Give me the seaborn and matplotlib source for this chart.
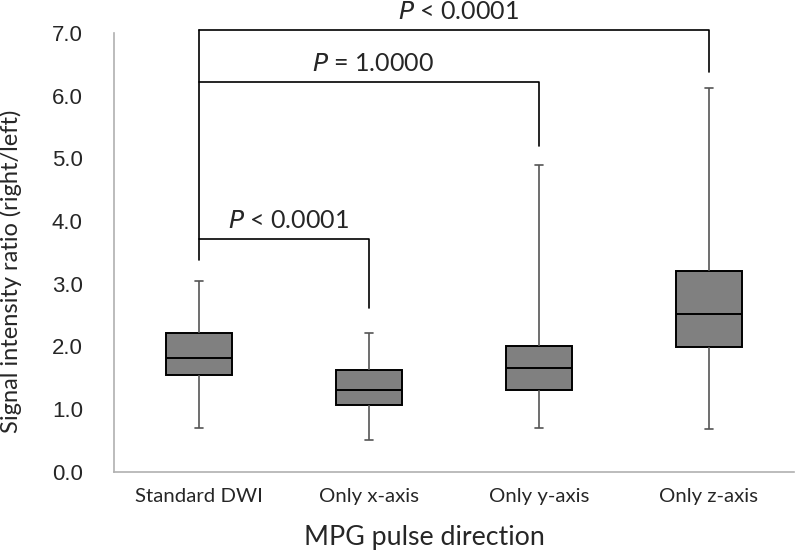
import pandas as pd
import matplotlib
matplotlib.use('Agg')
import matplotlib.pyplot as plt
import seaborn as sns

# 箱线图的五数概括（最小值、Q1、中位数、Q3、最大值）
groups = ['Standard DWI', 'Only x-axis', 'Only y-axis', 'Only z-axis']
mins = [0.69, 0.50, 0.69, 0.68]
q1s = [1.55, 1.07, 1.31, 1.99]
medians = [1.82, 1.30, 1.65, 2.51]
q3s = [2.22, 1.63, 2.01, 3.20]
maxs = [3.05, 2.22, 4.90, 6.12]

# 显著性标注：(组1, 组2, 横线高度, 右端下沿, 文字)
pairs = [(0, 3), (0, 2), (0, 1)]
bar_heights = [7.05, 6.22, 3.71]
right_ends = [6.38, 5.20, 2.61]
left_end = 3.38
p_labels = ['< 0.0001', '= 1.0000', '< 0.0001']

# 用五个点构造数据，whis=(0,100) 时百分位正好落在这五个值上
rows = []
for g, a, b, c, d, e in zip(groups, mins, q1s, medians, q3s, maxs):
    for v in (a, b, c, d, e):
        rows.append({'direction': g, 'ratio': v})
df = pd.DataFrame(rows)

sns.set_style('white')
fig = plt.figure(figsize=(7.95, 5.53), dpi=100)
ax = fig.add_axes([0.1434, 0.147, 0.855, 0.793])

sns.boxplot(data=df, x='direction', y='ratio', ax=ax, whis=(0, 100),
            width=0.39, color='#808080', saturation=1, linecolor='black',
            linewidth=1.4,
            whiskerprops={'color': '#555555', 'linewidth': 1.2},
            capprops={'color': '#555555', 'linewidth': 1.2},
            medianprops={'color': 'black', 'linewidth': 1.4})

# 缩短须线末端的横线
for line in ax.lines:
    xs = line.get_xdata()
    ys = line.get_ydata()
    if len(xs) == 2 and ys[0] == ys[1] and ys[0] in mins + maxs:
        cx = (xs[0] + xs[1]) / 2
        line.set_xdata([cx - 0.025, cx + 0.025])

ax.set_ylim(0, 7)
ax.set_xlim(-0.5, 3.5)
ax.set_yticks([0, 1, 2, 3, 4, 5, 6, 7], ['%.1f' % v for v in range(8)],
              family='Liberation Sans', fontsize=16)
ax.set_xticks([0, 1, 2, 3], groups, family='Lato', fontsize=14.7)
ax.set_xticks([-0.5, 0.5, 1.5, 2.5, 3.5], minor=True)
ax.tick_params(axis='x', which='major', length=0, pad=12)
ax.tick_params(axis='x', which='minor', length=6, color='#b0b0b0', direction='out')
ax.tick_params(axis='y', length=6.5, color='#b0b0b0', direction='out', pad=16)

for s in ['top', 'right']:
    ax.spines[s].set_visible(False)
for s in ['left', 'bottom']:
    ax.spines[s].set_color('#b0b0b0')
    ax.spines[s].set_linewidth(1.2)

ax.set_ylabel('Signal intensity ratio (right/left)', family='Lato', fontsize=17)
ax.set_xlabel('MPG pulse direction', family='Lato', fontsize=19.3)
ax.yaxis.set_label_coords(-0.135, 0.458)
ax.xaxis.set_label_coords(0.457, -0.122)

# 显著性括号
ax.plot([0, 0], [left_end, bar_heights[0]], color='black', lw=1.2, clip_on=False)
for (i, j), h, r, lab in zip(pairs, bar_heights, right_ends, p_labels):
    ax.plot([i, j, j], [h, h, r], color='black', lw=1.2, clip_on=False)
    ax.text((i + j) / 2 + 0.025, h + 0.176, '$\\it{P}$ ' + lab, ha='center', va='baseline',
            family='Lato', fontsize=18, clip_on=False)

plt.savefig('out.png', dpi=100)
